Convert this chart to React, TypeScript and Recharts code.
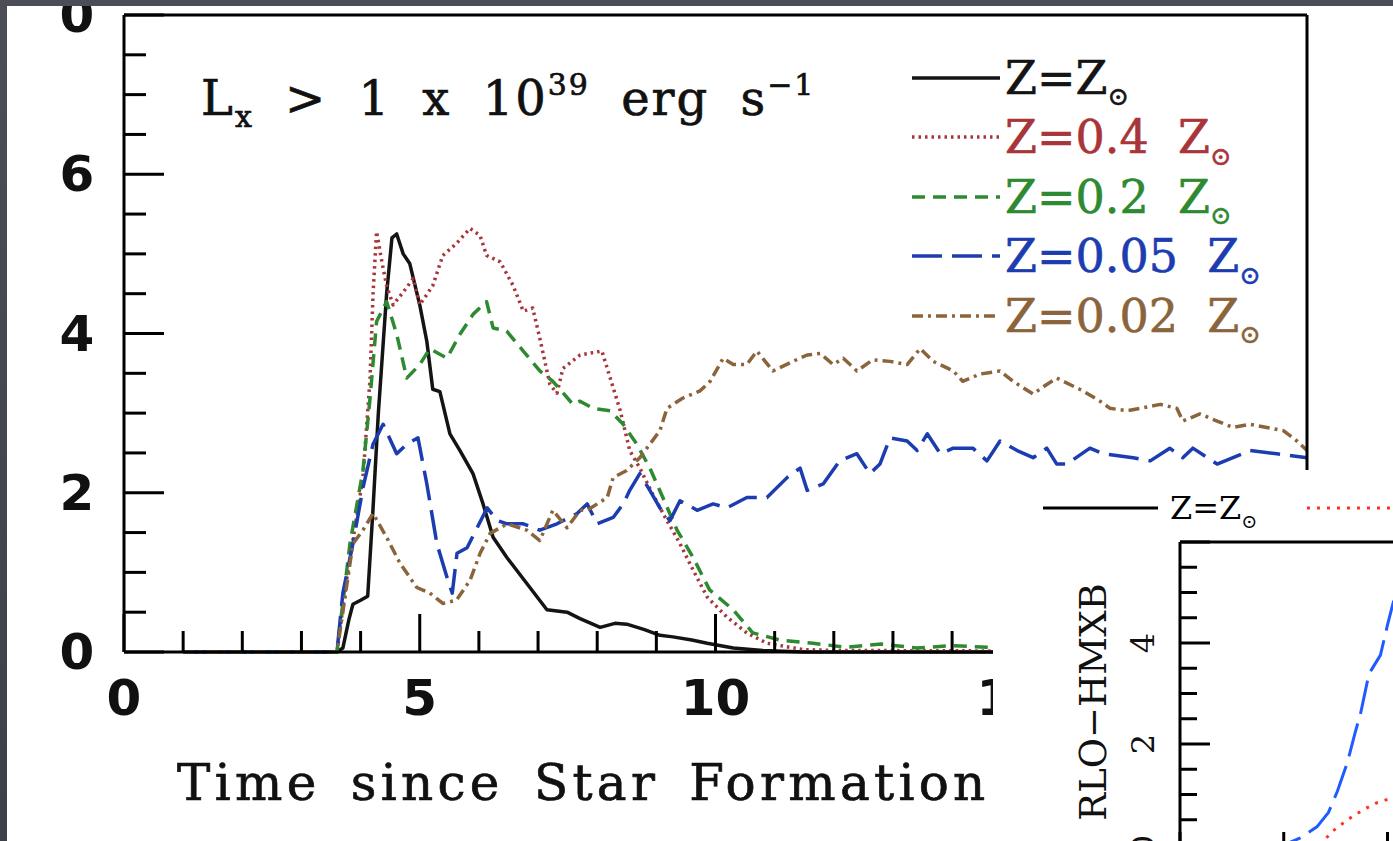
import { LineChart, Line, XAxis, YAxis, Legend, Customized } from "recharts";

// main panel: number of sources with Lx > 1e39 erg/s vs time since star formation (Myr)
const solar = [
  [1, 0], [3.6, 0], [3.7, 0.05], [3.8, 0.4], [3.87, 0.6], [4.0, 0.65], [4.12, 0.7], [4.21, 1.8],
  [4.3, 3.0], [4.44, 4.5], [4.53, 5.2], [4.61, 5.25], [4.72, 5.0], [4.83, 4.88], [5.0, 4.36],
  [5.12, 3.9], [5.22, 3.3], [5.34, 3.27], [5.51, 2.74], [5.68, 2.53], [5.9, 2.24], [6.07, 1.86],
  [6.24, 1.44], [6.47, 1.19], [6.81, 0.86], [7.15, 0.53], [7.49, 0.5], [7.71, 0.42], [8.05, 0.31],
  [8.3, 0.36], [8.5, 0.35], [8.8, 0.28], [9.06, 0.21], [9.28, 0.19], [9.6, 0.15], [9.86, 0.11],
  [10.3, 0.05], [10.8, 0.02], [11.5, 0], [20, 0],
];
const z04 = [
  [1, 0], [3.6, 0], [3.77, 0.94], [4.04, 2.19], [4.16, 3.44], [4.21, 4.49], [4.27, 5.28], [4.36, 4.9],
  [4.44, 4.6], [4.55, 4.36], [4.72, 4.52], [4.89, 4.69], [5.0, 4.36], [5.22, 4.6], [5.39, 4.98],
  [5.62, 5.13], [5.85, 5.32], [6.02, 5.23], [6.13, 4.98], [6.36, 4.9], [6.58, 4.6], [6.75, 4.28],
  [6.91, 4.32], [7.03, 3.94], [7.2, 3.36], [7.32, 3.25], [7.42, 3.56], [7.71, 3.73], [8.08, 3.78],
  [8.22, 3.44], [8.39, 3.03], [8.55, 2.53], [8.72, 2.31], [8.94, 1.98], [9.18, 1.65], [9.4, 1.36],
  [9.62, 1.03], [9.86, 0.69], [10.19, 0.44], [10.53, 0.24], [10.87, 0.11], [11.48, 0.03], [12, 0.02],
  [20, 0],
];
const z02 = [
  [1, 0], [3.6, 0], [3.82, 1.36], [4.04, 2.28], [4.16, 3.19], [4.27, 4.15], [4.44, 4.4], [4.61, 3.99],
  [4.78, 3.44], [5.0, 3.61], [5.17, 3.81], [5.46, 3.69], [5.68, 3.99], [5.9, 4.24], [6.13, 4.4],
  [6.24, 4.07], [6.47, 4.03], [6.75, 3.78], [7.03, 3.53], [7.25, 3.4], [7.59, 3.11], [7.71, 3.15],
  [7.93, 3.06], [8.22, 3.03], [8.44, 2.86], [8.67, 2.61], [8.89, 2.31], [9.11, 1.94], [9.35, 1.53],
  [9.62, 1.19], [9.9, 0.78], [10.3, 0.53], [10.63, 0.24], [11.09, 0.15], [11.65, 0.11], [12.2, 0.06],
  [12.8, 0.1], [13.4, 0.05], [14, 0.08], [14.6, 0.06], [15.5, 0.04], [20, 0.02],
];
const z005 = [
  [1, 0], [3.6, 0], [3.7, 0.74], [3.87, 1.36], [4.04, 2.06], [4.21, 2.61], [4.38, 2.86], [4.61, 2.49],
  [4.78, 2.61], [4.97, 2.69], [5.12, 2.11], [5.29, 1.36], [5.46, 0.94], [5.55, 0.74], [5.63, 1.24],
  [5.8, 1.31], [5.97, 1.56], [6.14, 1.81], [6.31, 1.65], [6.48, 1.61], [6.75, 1.61], [7.03, 1.53],
  [7.32, 1.61], [7.66, 1.74], [7.83, 1.86], [8.0, 1.61], [8.27, 1.69], [8.44, 1.86], [8.55, 2.03],
  [8.72, 2.24], [8.89, 2.03], [9.06, 1.81], [9.23, 1.65], [9.4, 1.9], [9.69, 1.78], [9.96, 1.86],
  [10.19, 1.81], [10.53, 1.94], [10.87, 1.94], [11.21, 2.19], [11.43, 2.31], [11.55, 2.03],
  [11.82, 2.11], [12.1, 2.4], [12.39, 2.49], [12.61, 2.24], [12.78, 2.36], [12.95, 2.69],
  [13.24, 2.65], [13.41, 2.53], [13.58, 2.74], [13.8, 2.49], [14.02, 2.56], [14.35, 2.56],
  [14.59, 2.4], [14.81, 2.65], [15.1, 2.53], [15.37, 2.44], [15.6, 2.56], [15.77, 2.36],
  [15.94, 2.36], [16.33, 2.56], [16.55, 2.49], [17.06, 2.44], [17.35, 2.4], [17.68, 2.56],
  [17.9, 2.44], [18.07, 2.56], [18.48, 2.36], [19.04, 2.53], [19.49, 2.49], [20, 2.44],
];
const z002 = [
  [1, 0], [3.6, 0], [3.87, 1.36], [4.04, 1.53], [4.21, 1.74], [4.44, 1.44], [4.67, 1.11], [4.95, 0.81],
  [5.17, 0.74], [5.39, 0.61], [5.62, 0.65], [5.85, 0.9], [6.02, 1.24], [6.19, 1.49], [6.48, 1.61],
  [6.81, 1.53], [7.03, 1.4], [7.25, 1.78], [7.49, 1.56], [7.71, 1.78], [7.83, 1.78], [8.17, 1.94],
  [8.27, 2.19], [8.5, 2.28], [8.72, 2.44], [8.89, 2.61], [9.06, 2.78], [9.18, 3.06], [9.45, 3.19],
  [9.74, 3.28], [9.91, 3.4], [10.13, 3.69], [10.3, 3.61], [10.53, 3.61], [10.7, 3.78], [10.97, 3.53],
  [11.31, 3.65], [11.55, 3.73], [11.77, 3.75], [11.99, 3.61], [12.16, 3.69], [12.39, 3.53],
  [12.66, 3.67], [12.95, 3.65], [13.24, 3.61], [13.46, 3.81], [13.68, 3.65], [14.02, 3.53],
  [14.18, 3.4], [14.47, 3.49], [14.81, 3.53], [15.03, 3.4], [15.37, 3.24], [15.6, 3.36],
  [15.77, 3.44], [15.99, 3.36], [16.21, 3.28], [16.5, 3.15], [16.67, 3.06], [16.96, 3.03],
  [17.18, 3.06], [17.52, 3.11], [17.8, 3.06], [17.9, 2.9], [18.19, 2.99], [18.48, 2.9],
  [18.75, 2.82], [19.04, 2.86], [19.32, 2.82], [19.6, 2.78], [19.83, 2.65], [20, 2.53],
];

// inset panel (RLO-HMXB), only the part that shows on the slide
const insetBlue = [
  [0, 0], [5, 0], [5.8, 0.14], [6.6, 0.36], [7.15, 0.64], [7.58, 1.06], [8.07, 1.64], [8.45, 2.24],
  [8.7, 2.6], [9.03, 3.24], [9.18, 3.44], [9.66, 3.76], [10.0, 4.36], [10.3, 4.84],
];
const insetRed = [
  [0, 0], [6.8, 0], [7.25, 0.24], [8.07, 0.5], [8.84, 0.7], [9.5, 0.84], [10.3, 0.94],
];

// ticks
const xTicks = [0, 1, 2, 3, 4, 5, 6, 7, 8, 9, 10, 11, 12, 13, 14, 15, 16, 17, 18, 19, 20];
const xMajor = [0, 5, 10, 15, 20];
const xLabels = [0, 5, 10, 15];
const yTicks = [0, 0.5, 1, 1.5, 2, 2.5, 3, 3.5, 4, 4.5, 5, 5.5, 6, 6.5, 7, 7.5, 8];
const yMajor = [0, 2, 4, 6, 8];
const yLabels = [0, 2, 4, 6];
const insetYTicks = [0, 0.5, 1, 1.5, 2, 2.5, 3, 3.5, 4, 4.5, 5, 5.5, 6];
const insetYMajor = [0, 2, 4, 6];
const insetYLabels = [0, 2, 4];

const pts = (a: number[][]) => a.map(([t, n]) => ({ t, n }));

const SERIF = "DejaVu Serif";

const mainSeries = [
  { key: "solar", label: "Z=Z", data: solar, color: "#141414", dash: undefined },
  { key: "z04", label: "Z=0.4  Z", data: z04, color: "#a8353a", dash: "2.5 4" },
  { key: "z02", label: "Z=0.2  Z", data: z02, color: "#2e8a30", dash: "13 8" },
  { key: "z005", label: "Z=0.05  Z", data: z005, color: "#1c3db0", dash: "30 10" },
  { key: "z002", label: "Z=0.02  Z", data: z002, color: "#8b643b", dash: "11 5 3 5" },
];

type Side = "left" | "right" | "top" | "bottom";
type TickOpts = {
  major: number[];
  labels?: number[];
  long: number;
  short: number;
  dx?: number;
  dy?: number;
  rotate?: boolean;
  font?: { family: string; size: number; weight?: number };
};

// ticks drawn inward, like the frame of the original plot
function frameTick(side: Side, o: TickOpts) {
  return (p: any) => {
    const v = p.payload.value;
    const len = o.major.includes(v) ? o.long : o.short;
    const x = p.x;
    const y = p.y;
    let x2 = x;
    let y2 = y;
    if (side === "left") x2 = x + len;
    else if (side === "right") x2 = x - len;
    else if (side === "top") y2 = y + len;
    else y2 = y - len;
    const lx = x + (o.dx ?? 0);
    const ly = y + (o.dy ?? 0);
    const show = o.labels && o.labels.includes(v) && o.font;
    return (
      <g>
        <line x1={x} y1={y} x2={x2} y2={y2} stroke="#000" strokeWidth={3} />
        {show && (
          <text
            x={lx}
            y={ly}
            textAnchor="middle"
            dominantBaseline="central"
            fontFamily={o.font!.family}
            fontSize={o.font!.size}
            fontWeight={o.font!.weight ?? 400}
            fill="#111"
            transform={o.rotate ? `rotate(-90 ${lx} ${ly})` : undefined}
          >
            {v}
          </text>
        )}
      </g>
    );
  };
}

const tickFont = { family: "DejaVu Sans", size: 50, weight: 700 };
const axisLine = { stroke: "#000", strokeWidth: 3 };

const Sun = ({ size = "0.55em" }: { size?: string }) => (
  <span style={{ fontSize: size, position: "relative", top: "0.45em" }}>⊙</span>
);

const MainLegend = () => (
  <div style={{ fontFamily: SERIF, fontSize: 46, WebkitTextStroke: "0.6px" }}>
    {mainSeries.map((s) => (
      <div key={s.key} style={{ display: "flex", alignItems: "center", height: 59.5 }}>
        <svg width={88} height={12}>
          <line x1={0} y1={6} x2={88} y2={6} stroke={s.color} strokeWidth={3.5} strokeDasharray={s.dash} />
        </svg>
        <span style={{ color: s.color, whiteSpace: "pre", marginLeft: 5, lineHeight: 1 }}>
          {s.label}
          <Sun />
        </span>
      </div>
    ))}
  </div>
);

const MainText = () => (
  <g fontFamily={SERIF} fill="#111" stroke="#111" strokeWidth={0.7}>
    {/* zero label of the panel above, cut by the slide edge */}
    <text x={70} y={9} textAnchor="middle" dominantBaseline="central" fontFamily="DejaVu Sans" fontWeight={700} fontSize={50} strokeWidth={0}>
      0
    </text>
    <text x={194} y={109} fontSize={48} letterSpacing={2} style={{ wordSpacing: 14 }}>
      L<tspan fontSize={30} dy={12}>x</tspan>
      <tspan dy={-12}> &gt; 1 x 10</tspan>
      <tspan fontSize={30} dy={-20}>39</tspan>
      <tspan dy={20}> erg s</tspan>
      <tspan fontSize={30} dy={-20}>−1</tspan>
    </text>
    <text x={170} y={794} fontSize={50} letterSpacing={4.3} style={{ wordSpacing: 10 }}>
      Time since Star Formation
    </text>
  </g>
);

const InsetLegend = () => (
  <div style={{ display: "flex", alignItems: "center", fontFamily: SERIF, fontSize: 32, whiteSpace: "nowrap" }}>
    <svg width={115} height={8}>
      <line x1={0} y1={4} x2={115} y2={4} stroke="#000" strokeWidth={3} />
    </svg>
    <span style={{ marginLeft: 12, lineHeight: 1 }}>
      Z=Z<Sun size="0.6em" />
    </span>
    <svg width={115} height={8} style={{ marginLeft: 50 }}>
      <line x1={0} y1={4} x2={115} y2={4} stroke="#ff3322" strokeWidth={3} strokeDasharray="3 7" />
    </svg>
    <span style={{ marginLeft: 12, lineHeight: 1, color: "#ff3322" }}>
      Z=0.4 Z<Sun size="0.6em" />
    </span>
  </div>
);

const InsetText = () => (
  <text
    x={100}
    y={232}
    textAnchor="middle"
    dominantBaseline="central"
    fontFamily={SERIF}
    fontSize={37}
    fill="#111"
    transform="rotate(-90 100 232)"
  >
    RLO−HMXB
  </text>
);

const seriesLine = {
  dataKey: "n",
  type: "linear" as const,
  strokeWidth: 3.5,
  strokeLinejoin: "round" as const,
  dot: false,
  activeDot: false,
  isAnimationActive: false,
};

export default function App() {
  return (
    <div
      style={{
        position: "fixed",
        left: 0,
        top: 0,
        width: 1393,
        height: 841,
        overflow: "hidden",
        background: "linear-gradient(#4b4e56, #3d4047)",
      }}
    >
      <div style={{ position: "absolute", left: 7, top: 6, width: 1386, height: 835, background: "#fff", overflow: "hidden" }}>
        <LineChart width={1386} height={835} margin={{ top: 8, right: 85, bottom: 188, left: 116 }}>
          <XAxis
            dataKey="t"
            type="number"
            domain={[0, 20]}
            ticks={xTicks}
            interval={0}
            height={1}
            tickSize={0}
            tickMargin={0}
            tickLine={false}
            axisLine={axisLine}
            tick={frameTick("bottom", { major: xMajor, labels: xLabels, long: 38, short: 21, dy: 46, font: tickFont })}
          />
          <XAxis
            xAxisId="top"
            orientation="top"
            type="number"
            domain={[0, 20]}
            ticks={xTicks}
            interval={0}
            height={1}
            tickSize={0}
            tickMargin={0}
            tickLine={false}
            axisLine={axisLine}
            tick={frameTick("top", { major: xMajor, long: 40, short: 19 })}
          />
          <YAxis
            type="number"
            domain={[0, 8]}
            ticks={yTicks}
            interval={0}
            width={1}
            tickSize={0}
            tickMargin={0}
            tickLine={false}
            axisLine={axisLine}
            tick={frameTick("left", { major: yMajor, labels: yLabels, long: 40, short: 22, dx: -47, font: tickFont })}
          />
          <YAxis
            yAxisId="right"
            orientation="right"
            type="number"
            domain={[0, 8]}
            ticks={yTicks}
            interval={0}
            width={1}
            tickSize={0}
            tickMargin={0}
            tickLine={false}
            axisLine={axisLine}
            tick={frameTick("right", { major: yMajor, long: 40, short: 22 })}
          />
          {mainSeries.map((s) => (
            <Line
              key={s.key}
              {...seriesLine}
              data={pts(s.data)}
              name={s.label}
              stroke={s.color}
              strokeDasharray={s.dash}
            />
          ))}
          <Legend
            layout="horizontal"
            verticalAlign="middle"
            align="center"
            content={() => <MainLegend />}
            wrapperStyle={{ left: 905, top: 42, width: 420 }}
          />
          <Customized component={<MainText />} />
        </LineChart>
      </div>

      <div style={{ position: "absolute", left: 993, top: 470, width: 400, height: 371, background: "#fff", overflow: "hidden" }}>
        <LineChart width={700} height={420} margin={{ top: 71, right: 98, bottom: 44, left: 186 }}>
          <XAxis
            dataKey="t"
            type="number"
            domain={[0, 20]}
            ticks={xMajor}
            interval={0}
            height={1}
            tickSize={0}
            tickMargin={0}
            tickLine={false}
            axisLine={axisLine}
            tick={frameTick("bottom", { major: xMajor, long: 13, short: 0 })}
          />
          <XAxis
            xAxisId="top"
            orientation="top"
            type="number"
            domain={[0, 20]}
            ticks={xTicks}
            interval={0}
            height={1}
            tickSize={0}
            tickMargin={0}
            tickLine={false}
            axisLine={axisLine}
            tick={frameTick("top", { major: xMajor, long: 28, short: 17 })}
          />
          <YAxis
            type="number"
            domain={[0, 6]}
            ticks={insetYTicks}
            interval={0}
            width={1}
            tickSize={0}
            tickMargin={0}
            tickLine={false}
            axisLine={axisLine}
            tick={frameTick("left", {
              major: insetYMajor,
              labels: insetYLabels,
              long: 30,
              short: 17,
              dx: -37,
              rotate: true,
              font: { family: SERIF, size: 32 },
            })}
          />
          <Line {...seriesLine} strokeWidth={3} data={pts(insetBlue)} stroke="#1f5bff" strokeDasharray="34 10" />
          <Line {...seriesLine} strokeWidth={3} data={pts(insetRed)} stroke="#ff3322" strokeDasharray="3 7" />
          <Legend
            layout="horizontal"
            verticalAlign="middle"
            align="center"
            content={() => <InsetLegend />}
            wrapperStyle={{ left: 50, top: 22, width: 700 }}
          />
          <Customized component={<InsetText />} />
        </LineChart>
      </div>
    </div>
  );
}
